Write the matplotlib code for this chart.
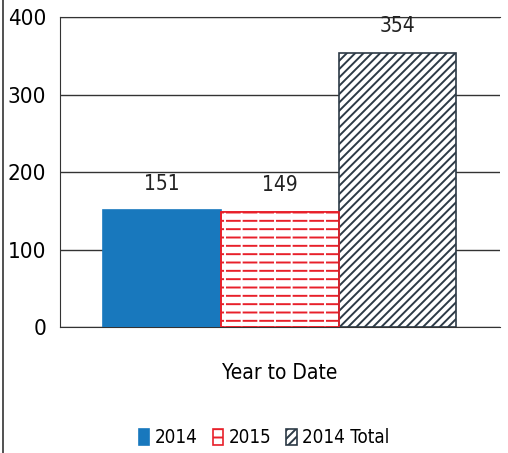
"""
Year to date comparison, 2014 vs 2015
"""

import matplotlib.pyplot as plt
from matplotlib.lines import Line2D

categories = ["2014", "2015", "2014 Total"]
values = [151, 149, 354]
positions = [-1, 0, 1]
y_ticks = [0, 100, 200, 300, 400]

plt.rcParams["font.family"] = ["DejaVu Sans"]
plt.rcParams["font.stretch"] = "condensed"
plt.rcParams["hatch.linewidth"] = 1.4

fig = plt.figure(figsize=(5.08, 4.53), dpi=100)
ax = fig.add_axes([0.118, 0.278, 0.866, 0.684])

styles = [
    dict(color="#1878bd", edgecolor="#1878bd", hatch=None),
    dict(color="white", edgecolor="#e8202a", hatch="--"),
    dict(color="white", edgecolor="#2c3a46", hatch="////"),
]

bars = []
for pos, val, lab, st in zip(positions, values, categories, styles):
    b = ax.bar(pos, val, width=1.0, label=lab,
               color=st["color"], edgecolor=st["edgecolor"],
               hatch=st["hatch"], linewidth=1.2, zorder=3)
    bars.append(b)
    ax.annotate(str(val), (pos, val), xytext=(0, 19),
                textcoords="offset points", ha="center", va="center",
                fontsize=15, color="#222222")

# break the red lines of 2015 into dashes
ax.bar(positions[1], values[1], width=1.0, color="none", edgecolor="white",
       hatch="|", linewidth=0, zorder=4)
ax.bar(positions[1], values[1], width=1.0, color="none", edgecolor="#e8202a",
       linewidth=1.2, zorder=5)

ax.set_xlim(-1.87, 1.87)
ax.set_ylim(0, 400)
ax.set_yticks(y_ticks)
ax.set_xticks([])
ax.tick_params(axis="y", length=0, labelsize=16, pad=10)
ax.yaxis.grid(True, color="#333333", linewidth=1.0, zorder=0)
for s in ax.spines.values():
    s.set_color("#333333")
ax.spines["right"].set_visible(False)
ax.set_xlabel("Year to Date", fontsize=15, labelpad=26)

fig.legend(handles=[b[0] for b in bars], labels=categories,
           loc="lower center", bbox_to_anchor=(0.52, -0.025), ncol=3,
           frameon=False, fontsize=13.5, handlelength=0.55, handleheight=1.0,
           handletextpad=0.3, columnspacing=0.8)

fig.add_artist(Line2D([0.006, 0.006], [0, 1], color="#333333", linewidth=1.2))

fig.savefig("out.png", dpi=100)
